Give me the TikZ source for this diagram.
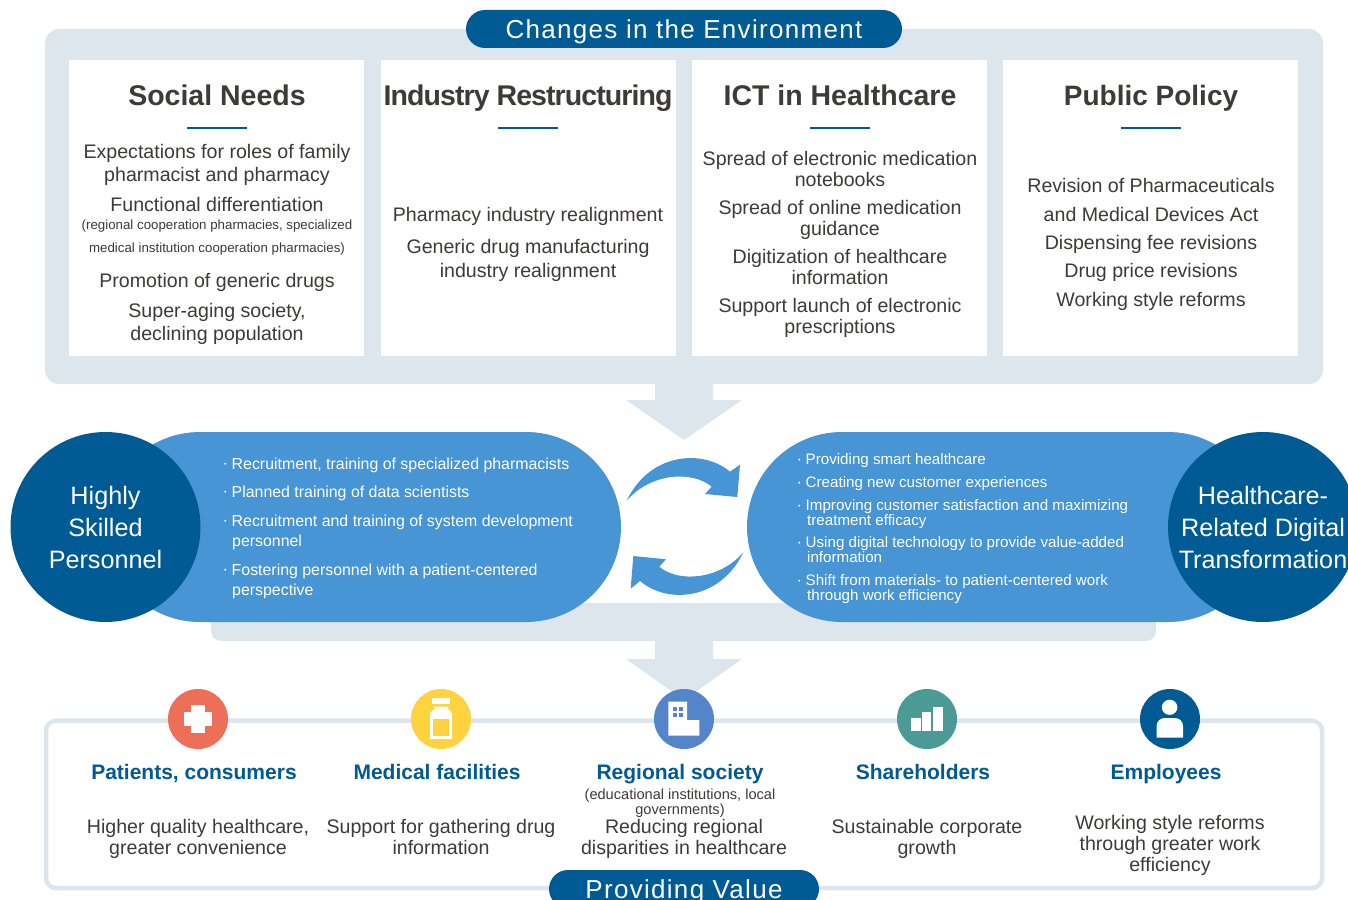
\documentclass[tikz,border=0pt]{standalone}
\usepackage{fontspec}
\setmainfont{Liberation Sans}
\newfontfamily\spacedfont[LetterSpace=5]{Liberation Sans}
\newfontfamily\tightfont[LetterSpace=-3.2]{Liberation Sans}
\usepackage{tikz}
\usetikzlibrary{positioning, calc}
\definecolor{navy}{HTML}{005A93}
\definecolor{midblue}{HTML}{4795D4}
\definecolor{pale}{HTML}{DCE6EC}
\definecolor{ink}{HTML}{3E3A39}
\definecolor{coral}{HTML}{EE6F57}
\definecolor{sun}{HTML}{FFD23F}
\definecolor{slate}{HTML}{5385C8}
\definecolor{teal}{HTML}{4C9A96}
\newcommand{\dotmark}{\makebox[7.5pt][l]{\raisebox{.14em}{\fontsize{7}{7}\selectfont\textbullet}}}

\begin{document}
\begin{tikzpicture}[
        x=1pt, y=-1pt,
        node distance=16pt,
        panel/.style={rectangle, fill=pale, rounded corners=14pt, inner sep=0pt},
        card/.style={rectangle, fill=white, minimum width=295pt, minimum height=296pt, inner sep=0pt, outer sep=0pt},
        banner/.style={rectangle, fill=navy, rounded corners=19pt, text=white, inner sep=0pt, text height=18pt, text depth=0pt, font=\fontsize{26}{26}\spacedfont},
        pill/.style={rectangle, fill=midblue, rounded corners=95pt, minimum height=190pt, inner sep=0pt},
        hub/.style={circle, fill=navy, minimum size=190pt, inner sep=0pt, text=white, align=center, font=\fontsize{25.2}{32}\selectfont},
        head/.style={text=ink, font=\bfseries\fontsize{28.5}{28.5}\selectfont, inner sep=0pt, text height=20pt, text depth=0pt},
        headrule/.style={draw=navy, line width=1.8pt},
        body/.style={text=ink, align=center, inner sep=0pt, font=\fontsize{19.6}{23}\selectfont},
        bodytight/.style={body, font=\fontsize{19.6}{21}\selectfont},
        tiny/.style={text=ink, align=center, inner sep=0pt, font=\fontsize{13.3}{22.5}\selectfont},
        bulletl/.style={text=white, anchor=west, align=left, inner sep=0pt, font=\fontsize{15.9}{20}\selectfont},
        bulletr/.style={text=white, anchor=west, align=left, inner sep=0pt, font=\fontsize{15.15}{15.3}\selectfont},
        badge/.style={circle, minimum size=60pt, inner sep=0pt},
        who/.style={text=navy, font=\bfseries\fontsize{21}{21}\selectfont, inner sep=0pt, text height=15pt, text depth=0pt},
        gain/.style={text=ink, align=center, inner sep=0pt, font=\fontsize{19.6}{21}\selectfont},
        blockarrow/.style={fill=pale},
        swirl/.style={fill=midblue},
        glyph/.style={fill=white}
    ]
        \useasboundingbox (0,0) rectangle (1348,899);
        \clip (0,0) rectangle (1348,899);

        % Changes in the environment
        \node[panel, minimum width=1278pt, minimum height=355pt] (envpanel) at (684,206.5) {};
        \node[banner, minimum width=436pt, minimum height=38pt] (envtitle) at (684,29) {Changes in the Environment};

        \node[card] (social) at (216.5,208) {};
        \node[card, right=17pt of social] (industry) {};
        \node[card, right=16pt of industry] (ict) {};
        \node[card, right=16pt of ict] (policy) {};

        \node[head] (socialhead) at (217,95) {Social Needs};
        \node[head, font=\fontsize{28.5}{28.5}\bfseries\tightfont] (industryhead) at (528,95) {Industry Restructuring};
        \node[head] (icthead) at (840,95) {ICT in Healthcare};
        \node[head, font=\bfseries\fontsize{28}{28}\selectfont] (policyhead) at (1151,95) {Public Policy};

        \draw[headrule] (187,128) -- (247,128);
        \draw[headrule] (498,128) -- (558,128);
        \draw[headrule] (810,128) -- (870,128);
        \draw[headrule] (1121,128) -- (1181,128);

        % Social needs text
        \node[body] (social1) at (217,164.5) {Expectations for roles of family\\pharmacist and pharmacy};
        \node[body] (social2) at (217,204) {Functional differentiation};
        \node[tiny] (social3) at (217,237.8) {(regional cooperation pharmacies, specialized\\medical institution cooperation pharmacies)};
        \node[body] (social4) at (217,282) {Promotion of generic drugs};
        \node[body] (social5) at (217,323.5) {Super-aging society,\\declining population};

        % Industry text
        \node[body] (industry1) at (528,216) {Pharmacy industry realignment};
        \node[body, font=\fontsize{19.6}{24}\selectfont] (industry2) at (528,260.5) {Generic drug manufacturing\\industry realignment};

        % ICT text
        \node[bodytight] (ict1) at (840,168.5) {Spread of electronic medication\\notebooks};
        \node[bodytight] (ict2) at (840,219.5) {Spread of online medication\\guidance};
        \node[bodytight] (ict3) at (840,266.5) {Digitization of healthcare\\information};
        \node[bodytight] (ict4) at (840,317.5) {Support launch of electronic\\prescriptions};

        % Policy text
        \node[body] (policy1) at (1151,185) {Revision of Pharmaceuticals};
        \node[body] (policy2) at (1151,214) {and Medical Devices Act};
        \node[body] (policy3) at (1151,244) {Dispensing fee revisions};
        \node[body] (policy4) at (1151,272) {Drug price revisions};
        \node[body] (policy5) at (1151,301) {Working style reforms};

        % Arrow from environment
        \fill[blockarrow] (655,384) -- (713,384) -- (713,400) -- (742,400) -- (684,440) -- (626,400) -- (655,400) -- cycle;

        % Band and arrow to value
        \node[panel, rounded corners=10pt, minimum width=945pt, minimum height=38pt] (band) at (683.5,622) {};
        \fill[blockarrow] (655,640) -- (713,640) -- (713,659) -- (742,659) -- (684,700) -- (626,659) -- (655,659) -- cycle;

        % Personnel and DX
        \node[pill, minimum width=516pt] (staffpill) at (363,527) {};
        \node[pill, minimum width=516pt] (dxpill) at (1005,527) {};
        \node[hub] (staff) at (105.5,527) {Highly\\Skilled\\Personnel};
        \node[hub] (dx) at (1263,527) {Healthcare-\\Related Digital\\Transformation};

        \node[bulletl] (staff1) at (224,465) {\dotmark Recruitment, training of specialized pharmacists};
        \node[bulletl] (staff2) at (224,493) {\dotmark Planned training of data scientists};
        \node[bulletl] (staff3) at (224,532) {\dotmark Recruitment and training of system development\\\hspace*{8pt}personnel};
        \node[bulletl] (staff4) at (224,581) {\dotmark Fostering personnel with a patient-centered\\\hspace*{8pt}perspective};

        \node[bulletr] (dx1) at (798,461) {\dotmark Providing smart healthcare};
        \node[bulletr] (dx2) at (798,484) {\dotmark Creating new customer experiences};
        \node[bulletr] (dx3) at (798,514.2) {\dotmark Improving customer satisfaction and maximizing\\\hspace*{9pt}treatment efficacy};
        \node[bulletr] (dx4) at (798,549.5) {\dotmark Using digital technology to provide value-added\\\hspace*{9pt}information};
        \node[bulletr] (dx5) at (798,589) {\dotmark Shift from materials- to patient-centered work\\\hspace*{9pt}through work efficiency};

        % Cycle arrows
        \fill[swirl] (626.7,500.7) .. controls (650,452) and (703.3,449) .. (730,471.7) -- (740,464.7) -- (737.3,497) -- (705,494) -- (711.7,486.7) .. controls (691.7,470) and (650,473.3) .. (626.7,500.7) -- cycle;
        \fill[swirl] (743.3,552.3) .. controls (720,601) and (666.7,604) .. (640,581) -- (630.7,588.7) -- (633.3,556) -- (666,559.3) -- (659.3,566.7) .. controls (678.3,583) and (720,579.7) .. (743.3,552.3) -- cycle;

        % Providing value
        \draw[draw=pale, line width=4.5pt, rounded corners=10pt] (46,720.7) rectangle (1322,888);
        \node[banner, minimum width=270pt, minimum height=38pt] (valuetitle) at (684,889) {Providing Value};

        \node[badge, fill=coral] (patients) at (198,719) {};
        \node[badge, fill=sun] (facilities) at (441,719) {};
        \node[badge, fill=slate] (society) at (684,719) {};
        \node[badge, fill=teal] (holders) at (927,719) {};
        \node[badge, fill=navy] (staffers) at (1170,719) {};

        % Icons
        \fill[glyph] (190.7,704.7) rectangle (205,732.7);
        \fill[glyph] (184,711.5) rectangle (212,726);

        \fill[glyph] (431.7,698.3) rectangle (450,704);
        \fill[glyph] (434.3,706.7) -- (448.3,706.7) -- (448.3,709) -- (452,713) -- (452,739) -- (430,739) -- (430,713) -- (434.3,709) -- cycle;
        \fill[sun] (432.7,718.7) rectangle (449,736);

        \fill[glyph] (668.3,701.7) -- (687,701.7) -- (687,720) -- (699.3,720) -- (699.3,735.7) -- (668.3,735.7) -- cycle;
        \fill[slate] (673,706.7) rectangle (677,710.7);
        \fill[slate] (678.6,706.7) rectangle (682.6,710.7);
        \fill[slate] (673,712.5) rectangle (677,716.5);
        \fill[slate] (678.6,712.5) rectangle (682.6,716.5);

        \fill[glyph] (911,717.7) rectangle (920.5,731);
        \fill[glyph] (922,712.3) rectangle (931,731);
        \fill[glyph] (933,706.7) rectangle (942.7,731);

        \fill[glyph] (1169.6,707.3) ellipse [x radius=7.8pt, y radius=7.6pt];
        \fill[glyph] (1156.6,737.7) [rounded corners=8pt] -- (1156.6,718) -- (1183,718) [sharp corners] -- (1183,737.7) -- cycle;

        % Stakeholders
        \node[who] (patientslabel) at (194,772) {Patients, consumers};
        \node[who] (facilitieslabel) at (437,772) {Medical facilities};
        \node[who] (societylabel) at (680,772) {Regional society};
        \node[who] (holderslabel) at (923,772) {Shareholders};
        \node[who] (stafferslabel) at (1166,772) {Employees};

        \node[tiny, font=\fontsize{14.6}{15}\selectfont] (societynote) at (680,803) {(educational institutions, local\\governments)};

        \node[gain] (patientsgain) at (198,838.5) {Higher quality healthcare,\\greater convenience};
        \node[gain] (facilitiesgain) at (441,836.5) {Support for gathering drug\\information};
        \node[gain] (societygain) at (684,838.5) {Reducing regional\\disparities in healthcare};
        \node[gain] (holdersgain) at (927,838.5) {Sustainable corporate\\growth};
        \node[gain] (staffersgain) at (1170,845) {Working style reforms\\through greater work\\efficiency};
    \end{tikzpicture}
\end{document}
